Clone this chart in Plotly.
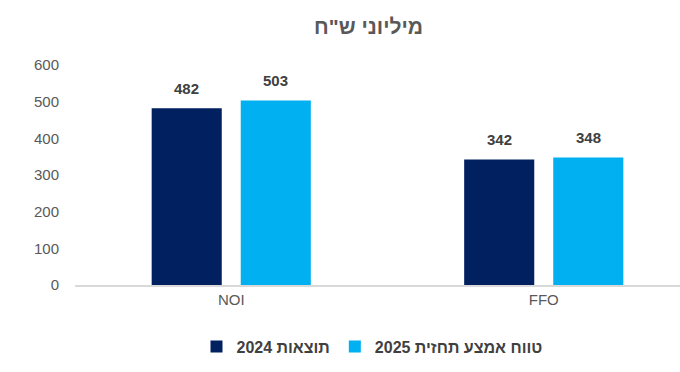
import plotly.graph_objects as go

categories = ["NOI", "FFO"]
series_names = ["תוצאות 2024", "טווח אמצע תחזית 2025"]
values_2024 = [482, 342]
values_2025 = [503, 348]
y_ticks = [0, 100, 200, 300, 400, 500, 600]
title_text = "מיליוני ש\"ח"

colors = ["#002060", "#00B0F0"]
font_family = "Liberation Sans, Arial, sans-serif"

fig = go.Figure()
for name, vals, col in zip(series_names, [values_2024, values_2025], colors):
    fig.add_trace(go.Bar(x=categories, y=vals, name=f"<b>{name}</b>", marker_color=col,
                         marker_line_width=0))

# data labels
offsets = [-44.5, 44.5]
for vals, dx in zip([values_2024, values_2025], offsets):
    for c, v in zip(categories, vals):
        fig.add_annotation(x=c, y=v, text=f"<b>{v}</b>", showarrow=False,
                           xshift=dx, yshift=20, xref="x", yref="y",
                           font=dict(size=15, color="#404040", family=font_family))

fig.add_annotation(x=(368 - 75) / 605, y=1 + (65 - 27) / 220, xref="paper", yref="paper",
                   text=f"<b>{title_text}</b>", showarrow=False, yanchor="middle",
                   font=dict(size=21, color="#595959", family=font_family))

fig.update_layout(
    width=680, height=372,
    margin=dict(l=75, r=0, t=65, b=87, autoexpand=False),
    paper_bgcolor="white", plot_bgcolor="white",
    barmode="group", bargap=0.43, bargroupgap=0.213,
    font=dict(family=font_family, color="#595959", size=14),
    showlegend=True,
    legend=dict(orientation="h", x=(372 - 75) / 605, xanchor="center", y=-0.28, yanchor="middle",
                font=dict(size=16, color="#404040", family=font_family),
                itemwidth=30, traceorder="normal"),
)
fig.update_xaxes(range=[-0.5, 1.436], showline=True, linecolor="#D9D9D9", linewidth=1.5,
                 ticks="", showgrid=False, automargin=False,
                 tickfont=dict(size=15, color="#595959"))
fig.update_yaxes(range=[0, 600], tickvals=y_ticks, showgrid=False, zeroline=False,
                 showline=False, ticks="outside", ticklen=12, tickcolor="rgba(0,0,0,0)",
                 automargin=False, tickfont=dict(size=15, color="#595959"))

fig.write_html("out.html", config={"displayModeBar": False},
               post_script="document.body.style.margin='0';document.body.style.overflow='hidden';")
